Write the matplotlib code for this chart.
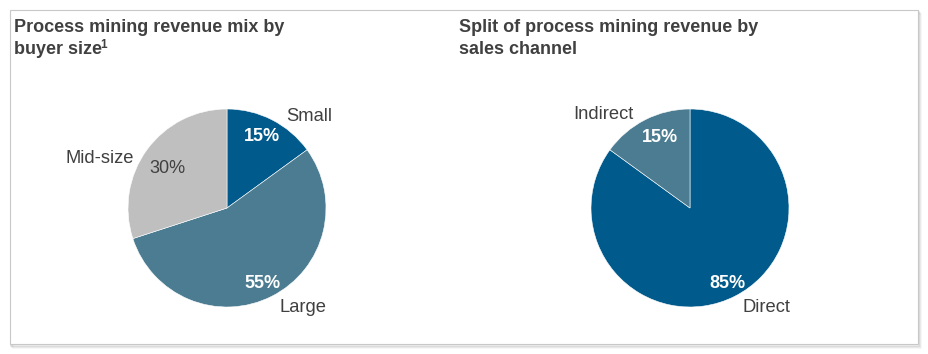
import matplotlib.pyplot as plt
from matplotlib.patches import Rectangle

plt.rcParams['font.family'] = ['Liberation Sans', 'DejaVu Sans']

# left pie: buyer size (clockwise from 12 o'clock)
size_labels = ['Small', 'Large', 'Mid-size']
size_values = [15, 55, 30]
# right pie: sales channel
channel_labels = ['Direct', 'Indirect']
channel_values = [85, 15]

dark_blue = '#005A8B'
steel = '#4B7C91'
grey = '#BFBFBF'
txt = '#404040'

W, H = 929, 354
fig = plt.figure(figsize=(W / 100, H / 100), dpi=100)
fig.patch.set_facecolor('white')

# card frame with a soft shadow
for i, a in enumerate([0.10, 0.07, 0.04]):
    fig.patches.append(Rectangle(((11 + i) / W, (H - 346 - i) / H), 908 / W, 334 / H,
                                 transform=fig.transFigure, facecolor='none',
                                 edgecolor=(0, 0, 0, a), lw=1.2, zorder=-3))
fig.patches.append(Rectangle((10 / W, (H - 344) / H), 908 / W, 334 / H, transform=fig.transFigure,
                             facecolor='white', edgecolor='#C8C8C8', lw=0.8, zorder=-2))

title_kw = dict(fontsize=13, fontweight='bold', color=txt, va='center', ha='left')
fig.text(14 / W, 1 - 28 / H, 'Process mining revenue mix by', **title_kw)
fig.text(14 / W, 1 - 49 / H, 'buyer size', **title_kw)
fig.text(100.5 / W, 1 - 45 / H, '1', fontsize=8.5, fontweight='bold', color=txt, va='center', ha='left')
fig.text(459 / W, 1 - 28 / H, 'Split of process mining revenue by', **title_kw)
fig.text(459 / W, 1 - 49 / H, 'sales channel', **title_kw)

r = 99
lab_fs = 13.2
pct_fs = 13


def pie_axes(cx, cy):
    return fig.add_axes([(cx - r) / W, (H - cy - r) / H, 2 * r / W, 2 * r / H])


ax1 = pie_axes(227, 208)
w1, _, p1 = ax1.pie(size_values, colors=[dark_blue, steel, grey], startangle=90, counterclock=False,
                    autopct='%d%%', pctdistance=0.8,
                    wedgeprops=dict(edgecolor='white', linewidth=0.4))
for t, c, wt in zip(p1, ['white', 'white', txt], ['bold', 'bold', 'normal']):
    t.set_color(c)
    t.set_fontsize(pct_fs)
    t.set_fontweight(wt)
p1[0].set_position((0.35, 0.72))
p1[1].set_position((0.36, -0.76))
p1[2].set_position((-0.6, 0.4))
ax1.set_xlim(-1, 1)
ax1.set_ylim(-1, 1)
ax1.text(0.83, 0.92, size_labels[0], fontsize=lab_fs, color=txt, ha='center', va='center')
ax1.text(0.77, -1.01, size_labels[1], fontsize=lab_fs, color=txt, ha='center', va='center')
ax1.text(-1.29, 0.5, size_labels[2], fontsize=lab_fs, color=txt, ha='center', va='center')

ax2 = pie_axes(690, 208)
w2, _, p2 = ax2.pie(channel_values, colors=[dark_blue, steel], startangle=90, counterclock=False,
                    autopct='%d%%', pctdistance=0.82,
                    wedgeprops=dict(edgecolor='white', linewidth=0.4))
for t in p2:
    t.set_color('white')
    t.set_fontsize(pct_fs)
    t.set_fontweight('bold')
p2[0].set_position((0.38, -0.76))
p2[1].set_position((-0.3, 0.71))
ax2.set_xlim(-1, 1)
ax2.set_ylim(-1, 1)
ax2.text(0.77, -1.01, channel_labels[0], fontsize=lab_fs, color=txt, ha='center', va='center')
ax2.text(-0.88, 0.94, channel_labels[1], fontsize=lab_fs, color=txt, ha='center', va='center')

fig.savefig('out.png', dpi=100)
